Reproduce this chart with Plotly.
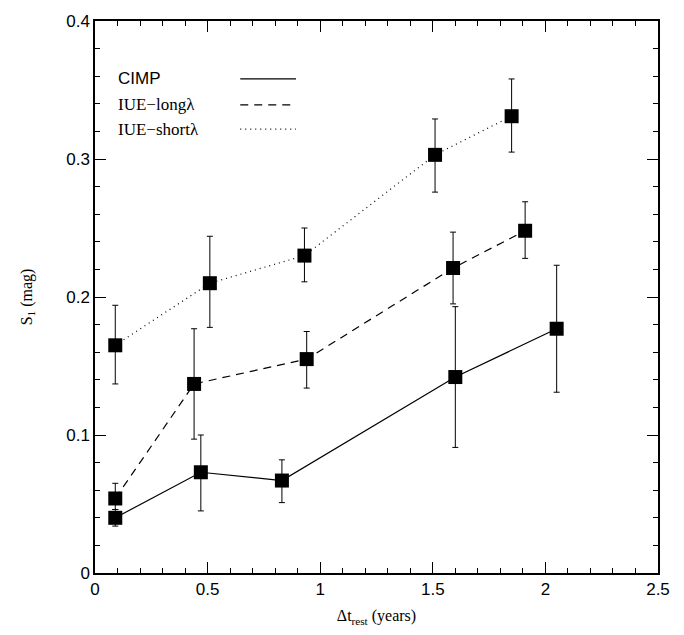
import plotly.graph_objects as go

# values
series_names = ["CIMP", "IUE\u2212long\u03bb", "IUE\u2212short\u03bb"]
series_dash = ["solid", "8px,6px", "1px,4px"]

cimp_x = [0.09, 0.47, 0.83, 1.60, 2.05]
cimp_y = [0.040, 0.073, 0.067, 0.142, 0.177]
cimp_hi = [0.046, 0.100, 0.082, 0.193, 0.223]
cimp_lo = [0.034, 0.045, 0.051, 0.091, 0.131]

long_x = [0.09, 0.44, 0.94, 1.59, 1.91]
long_y = [0.054, 0.137, 0.155, 0.221, 0.248]
long_hi = [0.065, 0.177, 0.175, 0.247, 0.269]
long_lo = [0.046, 0.097, 0.134, 0.195, 0.228]

short_x = [0.09, 0.51, 0.93, 1.51, 1.85]
short_y = [0.165, 0.210, 0.230, 0.303, 0.331]
short_hi = [0.194, 0.244, 0.250, 0.329, 0.358]
short_lo = [0.137, 0.178, 0.211, 0.276, 0.305]

x_range = [0, 2.5]
y_range = [0, 0.4]

series = [
    (cimp_x, cimp_y, cimp_hi, cimp_lo),
    (long_x, long_y, long_hi, long_lo),
    (short_x, short_y, short_hi, short_lo),
]

fig = go.Figure()

for (xs, ys, hi, lo), name, dash in zip(series, series_names, series_dash):
    fig.add_trace(go.Scatter(
        x=xs,
        y=ys,
        mode="lines+markers",
        name=name,
        line=dict(color="black", width=1.2, dash=dash),
        marker=dict(symbol="square", size=14, color="black"),
        error_y=dict(
            type="data",
            symmetric=False,
            array=[h - y for h, y in zip(hi, ys)],
            arrayminus=[y - l for l, y in zip(lo, ys)],
            color="black",
            thickness=1,
            width=3,
        ),
        showlegend=False,
    ))

# empty trace so the mirrored top/right axes (with minor ticks) get drawn
fig.add_trace(go.Scatter(x=[], y=[], xaxis="x2", yaxis="y2", showlegend=False))

# hand-drawn legend: label on the left, line sample on the right
legend_y = [0.895, 0.848, 0.804]
legend_fonts = ["Liberation Sans", "Liberation Serif", "Liberation Serif"]
for name, dash, ly, fam in zip(series_names, series_dash, legend_y, legend_fonts):
    fig.add_annotation(
        x=0.037, y=ly, xref="paper", yref="paper",
        text=name, showarrow=False, xanchor="left", yanchor="middle",
        font=dict(family=fam, size=17, color="black"),
    )
    fig.add_shape(
        type="line", xref="paper", yref="paper",
        x0=0.258, x1=0.357, y0=ly, y1=ly,
        line=dict(color="black", width=1.2, dash=dash),
    )

tick_style = dict(
    ticks="inside",
    ticklen=11,
    tickwidth=1.2,
    tickcolor="black",
)
minor_x = dict(dtick=0.1, ticks="inside", ticklen=5, tickwidth=1, tickcolor="black")
minor_y = dict(dtick=0.02, ticks="inside", ticklen=5, tickwidth=1, tickcolor="black")
line_style = dict(showline=True, linecolor="black", linewidth=1.5, showgrid=False, zeroline=False)
tick_font = dict(family="Liberation Sans", size=17, color="black")

fig.update_layout(
    xaxis=dict(
        range=x_range, dtick=0.5, minor=minor_x, tickfont=tick_font,
        title=dict(text="\u0394t<sub>rest</sub> (years)",
                   font=dict(family="Liberation Serif", size=16, color="black"),
                   standoff=12),
        **line_style, **tick_style,
    ),
    yaxis=dict(
        range=y_range, dtick=0.1, minor=minor_y, tickfont=tick_font,
        title=dict(text="S<sub>1</sub> (mag)",
                   font=dict(family="Liberation Serif", size=16, color="black"),
                   standoff=30),
        **line_style, **tick_style,
    ),
    xaxis2=dict(
        range=x_range, dtick=0.5, minor=minor_x, overlaying="x", side="top",
        showticklabels=False, **line_style, **tick_style,
    ),
    yaxis2=dict(
        range=y_range, dtick=0.1, minor=minor_y, overlaying="y", side="right",
        showticklabels=False, **line_style, **tick_style,
    ),
    width=684,
    height=635,
    margin=dict(l=95, r=26, t=13, b=62),
    plot_bgcolor="white",
    paper_bgcolor="white",
)

fig.write_html(
    "out.html",
    config={"displayModeBar": False},
    post_script="document.body.style.margin='0px';",
)
